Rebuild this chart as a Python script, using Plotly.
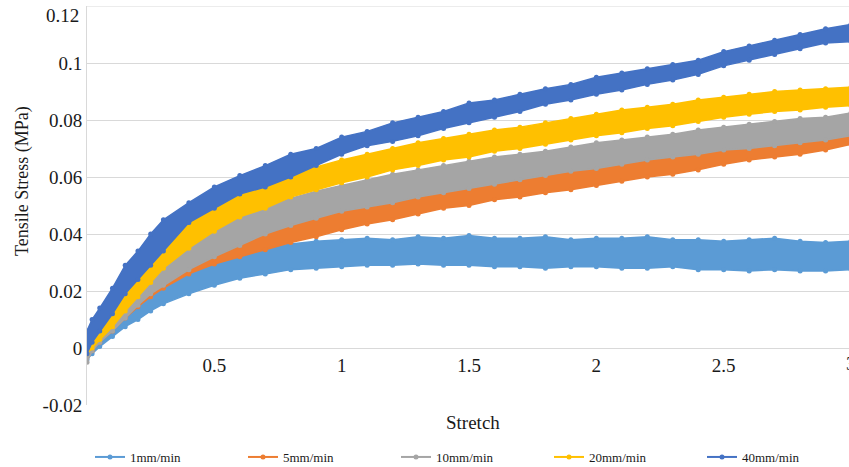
import plotly.graph_objects as go

# Stretch sampling positions shared by all series
stretch = [0, 0.02, 0.05, 0.1, 0.15, 0.2, 0.25, 0.3, 0.4, 0.5, 0.6, 0.7, 0.8, 0.9,
           1.0, 1.1, 1.2, 1.3, 1.4, 1.5, 1.6, 1.7, 1.8, 1.9, 2.0, 2.1, 2.2, 2.3,
           2.4, 2.5, 2.6, 2.7, 2.8, 2.9, 3.0]

# Upper / lower envelope of the measured stress scatter (MPa) for each rate
upper_1mm = [0.002, 0.004, 0.007, 0.011, 0.015, 0.018, 0.021, 0.024, 0.028, 0.031, 0.033, 0.035,
             0.0365, 0.0375, 0.038, 0.0385, 0.038, 0.039, 0.0385, 0.0395, 0.0385, 0.0385, 0.039,
             0.038, 0.0385, 0.0385, 0.039, 0.038, 0.038, 0.0375, 0.038, 0.0385, 0.0375, 0.037, 0.0375]
lower_1mm = [-0.004, -0.002, 0.0005, 0.004, 0.0075, 0.010, 0.013, 0.0155, 0.019, 0.022, 0.0245, 0.026,
             0.0275, 0.028, 0.0285, 0.029, 0.029, 0.0295, 0.029, 0.029, 0.0285, 0.0285, 0.028,
             0.0285, 0.0285, 0.028, 0.028, 0.0285, 0.0275, 0.0275, 0.027, 0.0275, 0.027, 0.027, 0.0275]

upper_5mm = [0.004, 0.007, 0.010, 0.014, 0.017, 0.020, 0.023, 0.026, 0.030, 0.0335, 0.037, 0.0405,
             0.044, 0.0465, 0.049, 0.051, 0.053, 0.0545, 0.056, 0.0575, 0.059, 0.060, 0.0615,
             0.063, 0.0645, 0.0655, 0.067, 0.068, 0.069, 0.0705, 0.072, 0.073, 0.0745, 0.0755, 0.0765]
lower_5mm = [-0.003, -0.001, 0.002, 0.006, 0.0105, 0.0145, 0.018, 0.021, 0.026, 0.0295, 0.032, 0.0345,
             0.037, 0.039, 0.0415, 0.0435, 0.045, 0.047, 0.049, 0.050, 0.052, 0.053, 0.0545,
             0.0555, 0.057, 0.0585, 0.060, 0.061, 0.0625, 0.0645, 0.066, 0.067, 0.068, 0.0695, 0.0715]

upper_10mm = [0.003, 0.006, 0.010, 0.015, 0.020, 0.025, 0.029, 0.033, 0.039, 0.043, 0.047, 0.050,
              0.0525, 0.055, 0.057, 0.059, 0.061, 0.0625, 0.064, 0.0655, 0.067, 0.068, 0.069,
              0.0705, 0.072, 0.073, 0.074, 0.075, 0.0765, 0.0775, 0.0785, 0.0795, 0.0805, 0.081, 0.0825]
lower_10mm = [-0.005, -0.001, 0.002, 0.006, 0.0105, 0.015, 0.019, 0.022, 0.0275, 0.032, 0.036, 0.040,
              0.043, 0.0455, 0.048, 0.0495, 0.051, 0.053, 0.0545, 0.056, 0.0575, 0.059, 0.0605,
              0.062, 0.063, 0.0645, 0.066, 0.067, 0.068, 0.0695, 0.070, 0.071, 0.072, 0.073, 0.0745]

upper_20mm = [0.004, 0.007, 0.011, 0.017, 0.024, 0.029, 0.035, 0.039, 0.045, 0.050, 0.0545, 0.058,
              0.061, 0.0635, 0.066, 0.068, 0.070, 0.072, 0.0735, 0.075, 0.0765, 0.0775, 0.079,
              0.0805, 0.082, 0.0835, 0.0845, 0.0855, 0.087, 0.088, 0.089, 0.090, 0.0905, 0.091, 0.0915]
lower_20mm = [-0.002, 0.0, 0.003, 0.0075, 0.013, 0.018, 0.023, 0.028, 0.035, 0.041, 0.046, 0.049,
              0.053, 0.0555, 0.058, 0.060, 0.0625, 0.064, 0.066, 0.067, 0.069, 0.070, 0.0715,
              0.073, 0.0745, 0.0755, 0.077, 0.078, 0.0795, 0.081, 0.082, 0.083, 0.0835, 0.0845, 0.085]

upper_40mm = [0.006, 0.010, 0.014, 0.021, 0.029, 0.034, 0.040, 0.045, 0.051, 0.0565, 0.0605, 0.064,
              0.068, 0.070, 0.074, 0.076, 0.079, 0.081, 0.083, 0.086, 0.087, 0.089, 0.091,
              0.0925, 0.095, 0.0965, 0.098, 0.0995, 0.101, 0.104, 0.106, 0.108, 0.110, 0.112, 0.1135]
lower_40mm = [-0.002, 0.002, 0.006, 0.012, 0.019, 0.024, 0.029, 0.034, 0.044, 0.049, 0.054, 0.0565,
              0.060, 0.064, 0.068, 0.071, 0.0725, 0.0745, 0.077, 0.079, 0.081, 0.083, 0.0855,
              0.087, 0.089, 0.0905, 0.0925, 0.094, 0.096, 0.099, 0.101, 0.103, 0.105, 0.107, 0.1075]

series_names = ["1mm/min", "5mm/min", "10mm/min", "20mm/min", "40mm/min"]
series_colors = ["#5B9BD5", "#ED7D31", "#A5A5A5", "#FFC000", "#4472C4"]
envelopes = [(upper_1mm, lower_1mm), (upper_5mm, lower_5mm), (upper_10mm, lower_10mm),
             (upper_20mm, lower_20mm), (upper_40mm, lower_40mm)]

y_ticks = [-0.02, 0, 0.02, 0.04, 0.06, 0.08, 0.1]
y_tick_text = ["-0.02", "0", "0.02", "0.04", "0.06", "0.08", "0.1"]
y_top_tick_text = "0.12"
x_ticks = [0.5, 1, 1.5, 2, 2.5]
x_tick_text = ["0.5", "1", "1.5", "2", "2.5"]
x_last_tick = 3

FONT = "Liberation Serif"
TEXT = "#1a1a1a"
GRID = "#d9d9d9"
Y_RANGE = [-0.02, 0.12]
X_RANGE = [0, 2.992]


def serif(size):
    return dict(family=FONT, size=size, color=TEXT)


fig = go.Figure()

# Scatter bands: the filled envelope of each test, drawn in rate order
for name, color, (up, lo) in zip(series_names, series_colors, envelopes):
    fig.add_trace(go.Scatter(
        x=stretch + stretch[::-1],
        y=up + lo[::-1],
        mode="lines+markers",
        fill="toself",
        fillcolor=color,
        line=dict(color=color, width=1.5),
        marker=dict(color=color, size=5),
        showlegend=False,
        hoverinfo="skip",
        name=name,
    ))

# Legend entries (line with dot)
for name, color in zip(series_names, series_colors):
    fig.add_trace(go.Scatter(
        x=[None], y=[None], mode="lines+markers", name=name,
        line=dict(color=color, width=2), marker=dict(color=color, size=5),
    ))

zero_pos = (0 - Y_RANGE[0]) / (Y_RANGE[1] - Y_RANGE[0])

fig.update_layout(
    template="none",
    width=849, height=467,
    margin=dict(l=87, r=0, t=6, b=62, autoexpand=False),
    paper_bgcolor="white", plot_bgcolor="white",
    xaxis=dict(
        range=X_RANGE, anchor="free", position=zero_pos,
        tickvals=x_ticks, ticktext=x_tick_text,
        showgrid=False, zeroline=False, showline=False, ticks="",
        ticklabelstandoff=4, tickfont=serif(19),
    ),
    yaxis=dict(
        range=Y_RANGE, tickvals=y_ticks, ticktext=y_tick_text,
        showgrid=True, gridcolor=GRID, gridwidth=1,
        zeroline=False, showline=True, linecolor=GRID, linewidth=1, ticks="",
        tickfont=serif(19),
    ),
    shapes=[dict(type="line", xref="paper", yref="y", x0=0, x1=1, y0=Y_RANGE[1], y1=Y_RANGE[1],
                 line=dict(color=GRID, width=1), layer="below")],
    legend=dict(
        orientation="h", xref="container", x=90 / 849, xanchor="left",
        yref="container", y=(467 - 457) / 467, yanchor="middle",
        font=serif(13), entrywidth=108, bgcolor="rgba(0,0,0,0)", borderwidth=0,
    ),
    showlegend=True,
    annotations=[
        dict(text="Stretch", xref="paper", yref="paper", x=(473 - 87) / 762, y=-(422 - 405) / 399,
             showarrow=False, font=serif(19), xanchor="center", yanchor="middle"),
        dict(text="Tensile Stress (MPa)", xref="paper", yref="paper", x=-(87 - 22) / 762,
             y=(405 - 181) / 399, textangle=-90, showarrow=False,
             font=serif(18), xanchor="center", yanchor="middle"),
        dict(text=y_top_tick_text, xref="paper", yref="paper", x=0, xshift=-6, y=1, yshift=-9,
             showarrow=False, font=serif(19), xanchor="right", yanchor="middle"),
        dict(text=str(x_last_tick), xref="paper", yref="paper",
             x=(x_last_tick - X_RANGE[0]) / (X_RANGE[1] - X_RANGE[0]), y=zero_pos,
             yshift=-15, showarrow=False, font=serif(19), xanchor="center", yanchor="middle"),
    ],
)

fig.write_html("out.html")
